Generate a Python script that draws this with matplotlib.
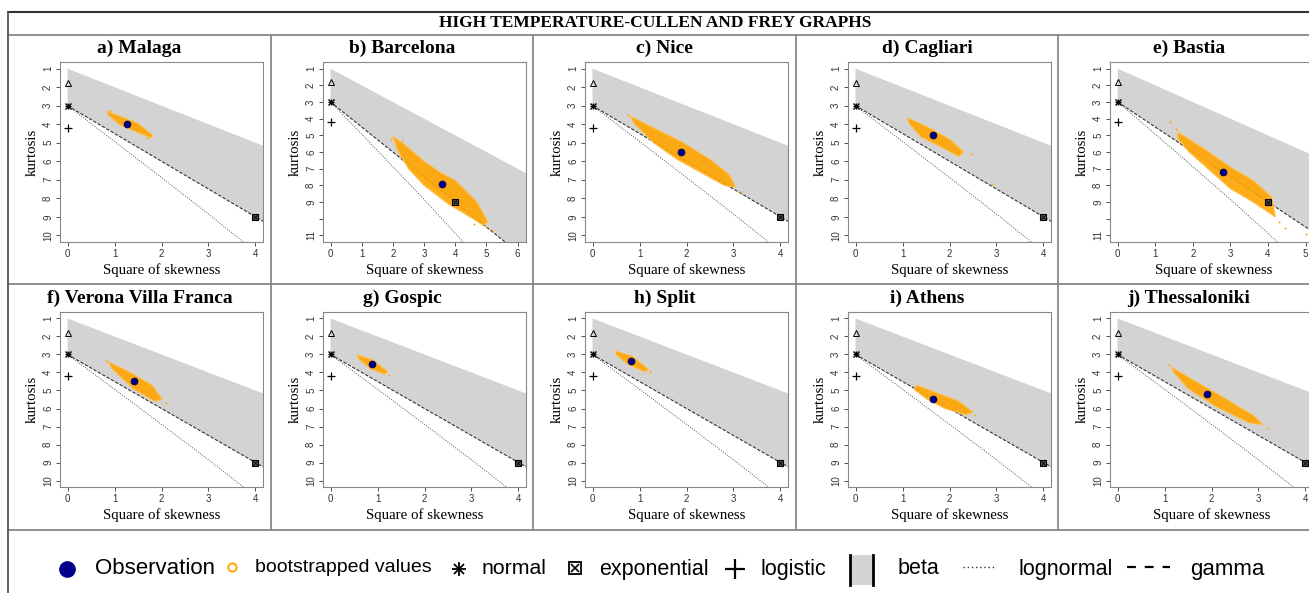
import matplotlib
matplotlib.use("Agg")
import matplotlib.pyplot as plt
from matplotlib.lines import Line2D
from matplotlib.patches import Rectangle

# Figure size in pixels (saved at dpi=100)
W, H = 1309, 593

SERIF = "Liberation Serif"
SANS = "Liberation Sans"

# Stations and observed (square of skewness, kurtosis)
STATIONS = ["a) Malaga", "b) Barcelona", "c) Nice", "d) Cagliari", "e) Bastia",
            "f) Verona Villa Franca", "g) Gospic", "h) Split", "i) Athens", "j) Thessaloniki"]
OBS_S2 = [1.26, 3.57, 1.89, 1.64, 2.81, 1.42, 0.88, 0.82, 1.65, 1.91]
OBS_KURT = [4.0, 7.92, 5.5, 4.6, 7.21, 4.45, 3.55, 3.35, 5.45, 5.2]

# axis extent of each panel (max square of skewness, max kurtosis)
XMAX = [4, 6.03, 4, 4, 5.1, 4, 4, 4, 4, 4]
YMAX = [10, 11, 10, 10, 11, 10, 10, 10, 10, 10]

# outline of each bootstrapped cloud (s2, kurtosis)
CLOUD_MALAGA = [(0.83, 3.3), (1.1, 3.55), (1.5, 3.95), (1.82, 4.62), (1.78, 4.74),
                (1.5, 4.45), (1.1, 4.02), (0.86, 3.48)]
CLOUD_BARCELONA = [(2.0, 5.05), (2.4, 5.6), (3.0, 6.55), (3.5, 7.2), (4.0, 7.7), (4.7, 9.0),
                   (5.05, 10.2), (4.9, 10.4), (4.3, 9.7), (3.8, 9.15), (3.0, 8.0), (2.5, 7.0),
                   (2.15, 5.9)]
CLOUD_NICE = [(0.8, 3.55), (1.3, 4.2), (1.9, 4.95), (2.5, 5.9), (2.9, 6.7), (3.05, 7.4),
              (2.8, 7.3), (2.3, 6.6), (1.8, 5.9), (1.3, 5.0), (0.9, 4.0)]
CLOUD_CAGLIARI = [(1.1, 3.65), (1.5, 4.1), (2.0, 4.8), (2.3, 5.5), (2.2, 5.75), (1.8, 5.2),
                  (1.4, 4.7), (1.15, 4.0)]
CLOUD_BASTIA = [(1.6, 4.8), (2.3, 5.8), (3.0, 6.9), (3.6, 7.7), (4.1, 8.7), (4.2, 9.9),
                (3.6, 9.0), (3.0, 8.2), (2.4, 7.0), (1.9, 6.0), (1.6, 5.2)]
CLOUD_VERONA = [(0.86, 3.4), (1.3, 3.95), (1.8, 4.7), (2.02, 5.5), (1.85, 5.6), (1.4, 4.9),
                (0.95, 3.8)]
CLOUD_GOSPIC = [(0.56, 3.0), (0.9, 3.3), (1.22, 3.95), (1.15, 4.1), (0.85, 3.8), (0.6, 3.25)]
CLOUD_SPLIT = [(0.48, 2.8), (0.85, 3.1), (1.2, 3.85), (1.1, 3.95), (0.75, 3.55), (0.5, 3.0)]
CLOUD_ATHENS = [(1.3, 4.7), (1.7, 5.1), (2.2, 5.6), (2.5, 6.2), (2.35, 6.35), (1.9, 6.0),
                (1.5, 5.45), (1.25, 4.95)]
CLOUD_THESSALONIKI = [(1.15, 3.7), (1.6, 4.4), (2.2, 5.3), (2.9, 6.4), (3.1, 6.9), (2.8, 6.8),
                      (2.1, 5.9), (1.5, 4.9), (1.2, 4.0)]
CLOUDS = [CLOUD_MALAGA, CLOUD_BARCELONA, CLOUD_NICE, CLOUD_CAGLIARI, CLOUD_BASTIA,
          CLOUD_VERONA, CLOUD_GOSPIC, CLOUD_SPLIT, CLOUD_ATHENS, CLOUD_THESSALONIKI]

# scattered bootstrap points outside the main cloud
STRAYS = [[(1.7, 4.75), (0.9, 3.3)],
          [(5.19, 10.66), (4.6, 10.3), (5.0, 10.5), (1.95, 5.2), (2.3, 5.35)],
          [(3.13, 7.68), (0.75, 3.5), (2.95, 7.0)],
          [(2.9, 7.25), (2.45, 5.6)],
          [(1.39, 4.19), (4.44, 10.56), (5.0, 10.9), (4.3, 10.2), (1.55, 4.6)],
          [(2.1, 5.7), (0.82, 3.35)], [(1.25, 4.15)], [(1.22, 4.0)], [(2.55, 6.35)],
          [(3.2, 7.1), (1.1, 3.6)]]

# theoretical references of the Cullen and Frey graph
BETA_TOP = [(0, 1), (8, 9)]
GAMMA_LINE = [(0, 3), (8, 15)]
LOGNORMAL = [(0, 3.0), (1.0, 4.93), (2.0, 6.88), (3.0, 8.85), (4.0, 10.88), (5.0, 12.95)]
NORMAL = (0, 3)
UNIFORM = (0, 1.8)
LOGISTIC = (0, 4.2)
EXPONENTIAL = (4, 9)

CELL_LEFT = [8, 271, 533, 796, 1058]
GREY = "#d3d3d3"
ORANGE = "orange"
NAVY = "#00008b"


def px_axes(fig, left, top, width, height):
    return fig.add_axes([left / W, 1 - (top + height) / H, width / W, height / H])


def asterisk(ax, x, y, size, **kw):
    ax.plot(x, y, marker="+", ms=size, color="k", **kw)
    ax.plot(x, y, marker="x", ms=size * 0.75, color="k", **kw)


def draw_panel(fig, i):
    row, col = divmod(i, 5)
    top = 62 if row == 0 else 312
    height = 180 if row == 0 else 175
    width = 207 if i == 4 else 203
    ax = px_axes(fig, CELL_LEFT[col] + 52, top, width, height)

    xmax, ymax = XMAX[i], YMAX[i]
    xpad = 0.04 * xmax
    ypad = 0.04 * (ymax - 1)
    ax.set_xlim(-xpad, xmax + xpad)
    ax.set_ylim(ymax + ypad, 1 - ypad)

    # beta area between upper bound and gamma line
    bx = [p[0] for p in BETA_TOP] + [p[0] for p in GAMMA_LINE[::-1]]
    by = [p[1] for p in BETA_TOP] + [p[1] for p in GAMMA_LINE[::-1]]
    ax.fill(bx, by, color=GREY, lw=0, zorder=1)
    ax.plot([p[0] for p in GAMMA_LINE], [p[1] for p in GAMMA_LINE], ls=(0, (3, 1.5)),
            color="#333333", lw=0.8, zorder=2)
    ax.plot([p[0] for p in LOGNORMAL], [p[1] for p in LOGNORMAL], ls=(0, (1, 1.5)),
            color="#555555", lw=0.7, zorder=2)

    cloud = CLOUDS[i]
    ax.fill([p[0] for p in cloud], [p[1] for p in cloud], color=ORANGE, lw=0.8,
            ec="#ffc04d", alpha=0.9, zorder=3)
    if STRAYS[i]:
        ax.scatter([p[0] for p in STRAYS[i]], [p[1] for p in STRAYS[i]], s=2,
                   color=ORANGE, lw=0, zorder=3)

    ax.plot(*UNIFORM, marker="^", ms=4, mfc="none", mec="k", mew=0.7, zorder=4)
    asterisk(ax, *NORMAL, 5, mew=1.0, zorder=4)
    ax.plot(*LOGISTIC, marker="+", ms=6, color="k", mew=0.9, zorder=4)
    ax.plot(*EXPONENTIAL, marker="s", ms=4.5, mfc="#555555", mec="k", mew=0.8, zorder=4)
    ax.plot(*EXPONENTIAL, marker="x", ms=3, color="k", mew=0.6, zorder=5)
    ax.plot(OBS_S2[i], OBS_KURT[i], marker="o", ms=5, mfc=NAVY, mec="#000044", mew=0.5, zorder=6)

    ax.set_xticks(range(0, int(xmax) + 1))
    yt = list(range(1, ymax + 1))
    ax.set_yticks(yt)
    ax.set_yticklabels(["" if (ymax == 11 and v == 10) else str(v) for v in yt],
                       rotation=90, va="center")
    ax.tick_params(length=3, width=0.6, labelsize=7, pad=2, colors="#333333")
    for lab in ax.get_xticklabels() + ax.get_yticklabels():
        lab.set_fontfamily(SANS)
    for sp in ax.spines.values():
        sp.set_color("#888888")
        sp.set_linewidth(0.8)
    ax.set_xlabel("Square of skewness", fontfamily=SERIF, fontsize=10.7, labelpad=3)
    ax.set_ylabel("kurtosis", fontfamily=SERIF, fontsize=10.7, labelpad=3)

    title_y = 48 if row == 0 else 298
    cx = (CELL_LEFT[col] + (CELL_LEFT[col + 1] if col < 4 else 1320)) / 2
    fig.text(cx / W, 1 - title_y / H, STATIONS[i], ha="center", va="center",
             fontfamily=SERIF, fontweight="bold", fontsize=14)


def hline(fig, x0, x1, y, color="#888888", lw=1.3):
    fig.add_artist(Line2D([x0 / W, x1 / W], [1 - y / H, 1 - y / H], color=color, lw=lw))


def vline(fig, x, y0, y1, color="#888888", lw=1.3):
    fig.add_artist(Line2D([x / W, x / W], [1 - y0 / H, 1 - y1 / H], color=color, lw=lw))


def draw_legend(fig):
    lax = fig.add_axes([0, 0, 1, 1], zorder=10)
    lax.set_xlim(0, W)
    lax.set_ylim(H, 0)
    lax.axis("off")
    yc = 569
    lax.plot(67, yc, marker="o", ms=11, color=NAVY)
    lax.text(95, yc, "Observation", fontfamily=SANS, fontsize=16, va="center")
    lax.plot(232, yc - 2, marker="o", ms=6, mfc="none", mec=ORANGE, mew=1.4)
    lax.text(255, yc - 2, "bootstrapped values", fontfamily=SANS, fontsize=14, va="center")
    asterisk(lax, 459, yc, 10, mew=1.3)
    lax.text(482, yc, "normal", fontfamily=SANS, fontsize=15.3, va="center")
    lax.plot(575, yc - 1, marker="s", ms=8, mfc="white", mec="k", mew=1.3)
    lax.plot(575, yc - 1, marker="x", ms=6, color="k", mew=1.2)
    lax.text(599, yc, "exponential", fontfamily=SANS, fontsize=15.5, va="center")
    lax.plot(735, yc, marker="+", ms=15, color="k", mew=1.6)
    lax.text(760, yc + 1, "logistic", fontfamily=SANS, fontsize=15.5, va="center")
    lax.add_patch(Rectangle((850, 555), 23, 30, facecolor=GREY, edgecolor="none"))
    lax.plot([850, 850], [555, 585], color="k", lw=2)
    lax.plot([873, 873], [555, 585], color="k", lw=2)
    lax.text(898, yc, "beta", fontfamily=SANS, fontsize=15.5, va="center")
    lax.plot([963, 996], [yc - 2, yc - 2], ls=(0, (1, 2)), color="#333333", lw=1)
    lax.text(1018, yc, "lognormal", fontfamily=SANS, fontsize=15.5, va="center")
    lax.plot([1127, 1170], [yc - 2, yc - 2], ls=(0, (4, 4)), color="k", lw=1.6)
    lax.text(1190, yc, "gamma", fontfamily=SANS, fontsize=16, va="center")


def main():
    fig = plt.figure(figsize=(W / 100, H / 100), dpi=100)
    fig.patch.set_facecolor("white")

    for i in range(len(STATIONS)):
        draw_panel(fig, i)

    # table grid
    hline(fig, 8, W, 12, color="#333333", lw=1.5)
    hline(fig, 8, W, 35)
    hline(fig, 8, W, 284)
    hline(fig, 8, W, 530)
    vline(fig, 8, 12, H, color="#555555")
    for x in CELL_LEFT[1:]:
        vline(fig, x, 35, 530)

    fig.text(655 / W, 1 - 23 / H, "HIGH TEMPERATURE-CULLEN AND FREY GRAPHS", ha="center",
             va="center", fontfamily=SERIF, fontweight="bold", fontsize=12.5)

    draw_legend(fig)
    fig.savefig("out.png", dpi=100)


if __name__ == "__main__":
    main()
